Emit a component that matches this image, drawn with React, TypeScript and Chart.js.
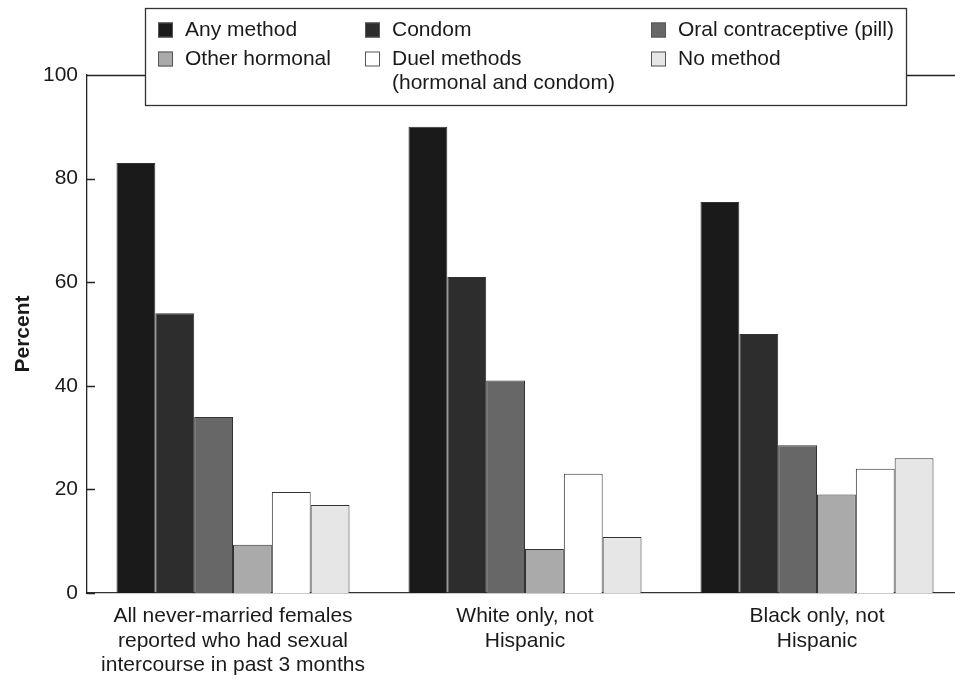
import React, { useEffect, useRef } from "react";
import { Chart, registerables } from "chart.js";

Chart.register(...registerables);

const categories: string[][] = [
  ["All never-married females", "reported who had sexual", "intercourse in past 3 months"],
  ["White only, not", "Hispanic"],
  ["Black only, not", "Hispanic"],
];
const seriesNames = [
  "Any method",
  "Condom",
  "Oral contraceptive (pill)",
  "Other hormonal",
  "Duel methods",
  "No method",
];
const legendLabels: string[][] = [
  ["Any method"],
  ["Condom"],
  ["Oral contraceptive (pill)"],
  ["Other hormonal"],
  ["Duel methods", "(hormonal and condom)"],
  ["No method"],
];
const anyMethod = [83, 90, 75.5];
const condom = [54, 61, 50];
const pill = [34, 41, 28.5];
const otherHormonal = [9.3, 8.5, 19];
const dualMethods = [19.5, 23, 24];
const noMethod = [17, 10.8, 26];
const yTicks = [0, 20, 40, 60, 80, 100];

const colors = ["#1a1a1a", "#2d2d2d", "#676767", "#aaaaaa", "#ffffff", "#e6e6e6"];

const FONT = "'Liberation Sans', Arial, Helvetica, sans-serif";

const framePlugin = {
  id: "frame",
  afterDraw(chart: any) {
    const ctx = chart.ctx;
    const { left, right, top } = chart.chartArea;
    const y = chart.scales.y;
    ctx.save();
    ctx.strokeStyle = "#222";
    ctx.lineWidth = 1.3;
    // inward ticks
    ctx.beginPath();
    yTicks.forEach((v) => {
      const py = Math.round(y.getPixelForValue(v)) + 0.5;
      ctx.moveTo(left, py);
      ctx.lineTo(left + 8, py);
    });
    // top frame line
    ctx.moveTo(left, top + 0.5);
    ctx.lineTo(right, top + 0.5);
    ctx.stroke();

    // legend box
    const bx = 145, by = 8, bw = 761, bh = 97;
    ctx.fillStyle = "#fff";
    ctx.fillRect(bx, by, bw, bh);
    ctx.lineWidth = 1.3;
    ctx.strokeStyle = "#333";
    ctx.strokeRect(bx + 0.5, by + 0.5, bw, bh);

    const colX = [158, 365, 651];
    const rowY = [30, 59];
    ctx.font = `21px ${FONT}`;
    ctx.textBaseline = "middle";
    ctx.textAlign = "left";
    legendLabels.forEach((lines, i) => {
      const col = i % 3;
      const row = Math.floor(i / 3);
      const sx = colX[col];
      const sy = rowY[row];
      ctx.fillStyle = colors[i];
      ctx.fillRect(sx, sy - 7.5, 15, 15);
      ctx.strokeStyle = "#555";
      ctx.lineWidth = 1;
      ctx.strokeRect(sx + 0.5, sy - 7.5 + 0.5, 14, 14);
      ctx.fillStyle = "#1a1a1a";
      lines.forEach((t, k) => {
        ctx.fillText(t, sx + 27, sy + k * 24);
      });
    });
    ctx.restore();
  },
};

export default function App() {
  const ref = useRef<HTMLCanvasElement | null>(null);
  useEffect(() => {
    document.body.style.margin = "0";
    const canvas = ref.current;
    if (!canvas) return;
    const data = [anyMethod, condom, pill, otherHormonal, dualMethods, noMethod];
    const chart = new Chart(canvas, {
      type: "bar",
      data: {
        labels: categories,
        datasets: seriesNames.map((name, i) => ({
          label: name,
          data: data[i],
          backgroundColor: colors[i],
          borderColor: "#333",
          borderWidth: 1,
          barPercentage: 1,
          categoryPercentage: 0.798,
        })),
      },
      options: {
        animation: false,
        responsive: false,
        devicePixelRatio: 1,
        layout: { padding: { top: 75, right: 0, left: 0, bottom: 0 } },
        plugins: {
          legend: { display: false },
          tooltip: { enabled: false },
        },
        scales: {
          x: {
            grid: { display: false, drawTicks: false },
            border: { display: true, color: "#333", width: 1.3 },
            ticks: {
              color: "#1a1a1a",
              font: { family: FONT, size: 21, lineHeight: 1.17 },
              padding: 11,
              maxRotation: 0,
              autoSkip: false,
            },
            afterFit: (s: any) => {
              s.height = 86;
            },
          },
          y: {
            min: 0,
            max: 100,
            afterBuildTicks: (s: any) => {
              s.ticks = yTicks.map((v) => ({ value: v }));
            },
            grid: { display: false, drawTicks: false },
            border: { display: true, color: "#222", width: 1.3 },
            ticks: {
              color: "#1a1a1a",
              font: { family: FONT, size: 21 },
              padding: 9,
            },
            title: {
              display: true,
              text: "Percent",
              color: "#1a1a1a",
              font: { family: FONT, size: 21, weight: "bold" },
              padding: { top: 11, bottom: 0 },
            },
            afterFit: (s: any) => {
              s.width = 87;
            },
          },
        },
      },
      plugins: [framePlugin],
    });
    return () => chart.destroy();
  }, []);
  return (
    <div style={{ width: 955, height: 679, background: "#fff", overflow: "hidden" }}>
      <canvas ref={ref} width={963} height={679} style={{ display: "block" }} />
    </div>
  );
}
